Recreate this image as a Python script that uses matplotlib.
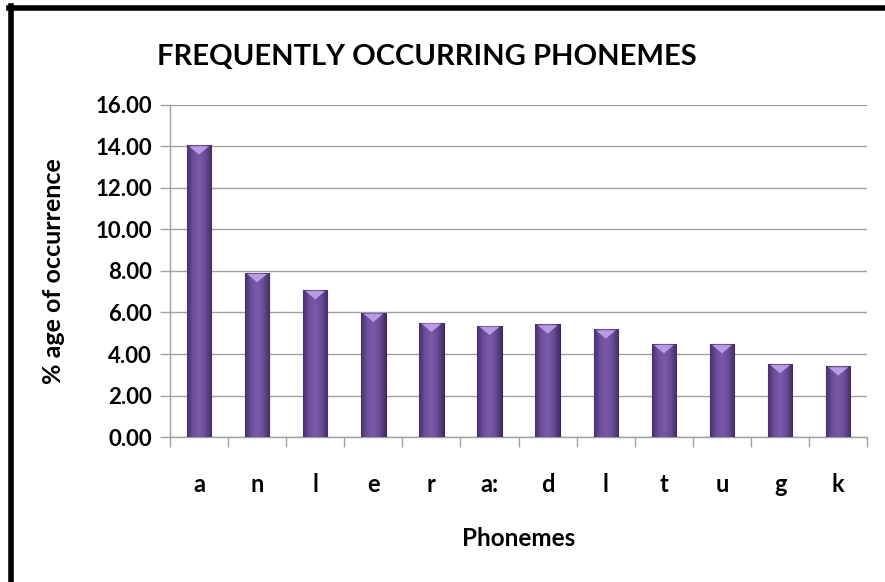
import numpy as np
import matplotlib.pyplot as plt
from matplotlib.patches import Polygon
from matplotlib.colors import LinearSegmentedColormap

phonemes = ["a", "n", "l", "e", "r", "a:", "d", "l", "t", "u", "g", "k"]
occurrence = [14.05, 7.90, 7.08, 5.99, 5.51, 5.36, 5.43, 5.19, 4.48, 4.48, 3.52, 3.41]
y_ticks = [0, 2, 4, 6, 8, 10, 12, 14, 16]

plt.rcParams['font.family'] = ['Lato', 'DejaVu Sans']
plt.rcParams['font.weight'] = 'bold'
plt.rcParams['axes.labelweight'] = 'bold'

fig = plt.figure(figsize=(8.85, 5.82), dpi=100)
ax = fig.add_axes([0.192, 0.249, 0.788, 0.571])

x = np.arange(len(phonemes))
width = 0.42
grey = "#a0a0a0"

# bars with a horizontal shading like the office 3d style
cmap = LinearSegmentedColormap.from_list(
    "bar", ["#48316c", "#6e4f9c", "#7a5aa8", "#694b96", "#432d66"])
grad = np.linspace(0, 1, 64).reshape(1, -1)
bars = ax.bar(x, occurrence, width, color="#6d4f99", edgecolor="#3a2757",
              linewidth=0.8, zorder=3)
for b, v in zip(bars, occurrence):
    x0 = b.get_x()
    im = ax.imshow(grad, cmap=cmap, aspect="auto", zorder=3,
                   extent=[x0, x0 + width, 0, v], interpolation="bilinear")
    im.set_clip_path(b)
    tri = Polygon([[x0 + 0.04, v - 0.05], [x0 + width - 0.04, v - 0.05],
                   [x0 + width / 2, v - 0.45]], closed=True,
                  facecolor="#b79ce3", edgecolor="none", zorder=4)
    ax.add_patch(tri)

ax.set_xlim(-0.5, len(phonemes) - 0.5)
ax.set_ylim(0, 16)
ax.set_yticks(y_ticks)
ax.set_yticklabels([f"{t:.2f}" for t in y_ticks])
ax.yaxis.grid(True, color=grey, linewidth=1.0, zorder=0)
ax.set_axisbelow(True)

ax.set_xticks(x)
ax.set_xticklabels(phonemes)
ax.set_xticks(np.arange(-0.5, len(phonemes)), minor=True)
ax.tick_params(axis="x", which="major", length=0, pad=26, labelsize=17)
ax.tick_params(axis="x", which="minor", length=7, color=grey, width=1.0, direction="out")
ax.tick_params(axis="y", length=7, color=grey, width=1.0, pad=6, labelsize=16)

for s in ["top", "right"]:
    ax.spines[s].set_visible(False)
for s in ["left", "bottom"]:
    ax.spines[s].set_color(grey)
    ax.spines[s].set_linewidth(1.0)

ax.set_xlabel("Phonemes", fontsize=17.5, labelpad=22)
ax.set_ylabel("% age of occurrence", fontsize=18, labelpad=22)
fig.text(0.482, 0.902, "FREQUENTLY OCCURRING PHONEMES", fontsize=21,
         ha="center", va="center", weight="bold")

# black frame on left and top
fig.add_artist(plt.Line2D([0.0125, 0.0125], [0.0, 0.99], color="black",
                          linewidth=4, transform=fig.transFigure))
fig.add_artist(plt.Line2D([0.0105, 1.0], [0.987, 0.987], color="black",
                          linewidth=4, transform=fig.transFigure))

fig.savefig("out.png", dpi=100)
